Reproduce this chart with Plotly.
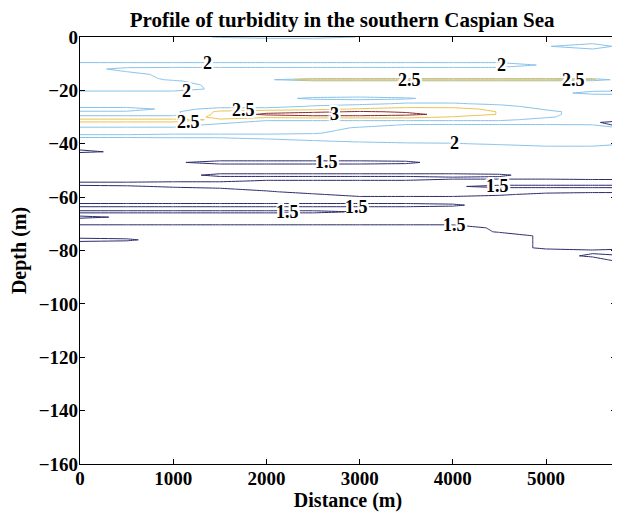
import plotly.graph_objects as go

# Distance along the transect (m)
DISTANCE = [0, 500, 1000, 1500, 2000, 2500, 3000, 3500, 4000, 4500, 5000, 5500, 5750]

# Depth of each profile row (m)
DEPTH = [0, -1, -2, -3.5, -5, -9, -10.5, -12, -14, -15.5, -16, -16.5, -18, -19.5,
         -21, -22, -23, -24, -25, -26, -27, -28, -29, -30, -31, -32, -33, -34, -35,
         -36, -37, -38, -39, -40, -41, -42, -43, -44, -45.5, -47, -48.5, -50.5,
         -51.75, -53, -54, -55, -56, -57, -58, -59, -60, -61.5, -63, -64.5, -65.5,
         -66.5, -67.5, -68.5, -70, -71.5, -73, -74.5, -76, -77.5, -79, -80.5, -82,
         -83.5, -85, -90, -160]

# Turbidity estimated at each (depth row, distance column)
TURBIDITY = [
    [1.8, 1.8, 1.8, 2.04, 2.2, 2.2, 1.98, 1.8, 1.8, 1.8, 1.8, 1.8, 1.8],      # 0
    [1.8, 1.8, 1.8, 1.8, 1.8, 1.8, 1.8, 1.8, 1.8, 1.8, 1.8, 1.8, 1.8],        # -1
    [1.8, 1.8, 1.8, 1.8, 1.8, 1.8, 1.8, 1.8, 1.8, 1.8, 1.8, 1.8, 1.8],        # -2
    [1.8, 1.8, 1.8, 1.8, 1.8, 1.8, 1.8, 1.8, 1.8, 1.8, 1.95, 2.4, 1.92],      # -3.5
    [1.8, 1.8, 1.8, 1.8, 1.8, 1.8, 1.8, 1.8, 1.8, 1.8, 1.8, 1.8, 1.8],        # -5
    [1.8, 1.8, 1.8, 1.8, 1.8, 1.8, 1.8, 1.8, 1.8, 1.8, 1.8, 1.8, 1.8],        # -9
    [2.3, 2.3, 2.3, 2.3, 2.3, 2.3, 2.3, 2.3, 2.3, 2.3, 1.92, 1.8, 1.8],       # -10.5
    [2.2, 1.85, 1.8, 1.8, 1.8, 1.8, 1.8, 1.8, 1.8, 1.8, 1.8, 1.8, 1.8],       # -12
    [2.2, 2.15, 1.85, 1.8, 1.8, 1.8, 1.8, 1.8, 1.8, 1.8, 1.8, 1.8, 1.8],      # -14
    [2.2, 2.2, 1.9, 1.8, 1.8, 1.8, 1.8, 1.8, 1.8, 1.8, 1.8, 1.8, 1.8],        # -15.5
    [2.2, 2.2, 1.95, 1.8, 1.8, 2.95, 2.95, 2.95, 2.95, 2.95, 2.95, 2.6, 1.8], # -16
    [2.2, 2.2, 2.05, 1.8, 1.8, 1.8, 1.8, 1.8, 1.8, 1.8, 1.8, 1.8, 1.8],       # -16.5
    [2.2, 2.2, 2.15, 1.9, 1.8, 1.8, 1.8, 1.8, 1.8, 1.8, 1.8, 1.8, 1.8],       # -18
    [2.2, 2.2, 2.2, 1.9, 1.8, 1.8, 1.8, 1.8, 1.8, 1.8, 1.8, 1.8, 1.8],        # -19.5
    [1.8, 1.8, 1.8, 1.8, 1.8, 1.8, 1.8, 1.8, 1.8, 1.8, 1.8, 2.15, 2.2],       # -21
    [1.8, 1.8, 1.8, 1.8, 1.8, 1.8, 1.8, 1.8, 1.8, 1.8, 1.8, 1.8, 1.8],        # -22
    [1.8, 1.8, 1.8, 1.8, 1.8, 2.1, 2.2, 2.05, 1.8, 1.8, 1.8, 1.8, 1.8],       # -23
    [1.8, 1.8, 1.8, 1.8, 1.8, 1.8, 1.8, 1.85, 1.85, 1.8, 1.8, 1.8, 1.8],      # -24
    [1.8, 1.8, 1.8, 1.8, 1.8, 1.8, 1.9, 2.05, 2.05, 1.9, 1.8, 1.8, 1.8],      # -25
    [1.8, 1.8, 1.8, 1.8, 1.8, 2.05, 2.2, 2.3, 2.3, 2.15, 1.8, 1.8, 1.8],      # -26
    [2.3, 2.3, 1.8, 2.2, 2.2, 2.35, 2.55, 2.75, 2.7, 2.35, 1.95, 1.8, 1.8],   # -27
    [1.93, 1.93, 1.9, 2.6, 2.85, 2.9, 3.05, 2.95, 2.85, 2.47, 2.1, 1.8, 1.8], # -28
    [1.85, 1.85, 1.85, 2.65, 3.1, 3.3, 3.3, 3.12, 2.85, 2.47, 2.1, 1.8, 1.8], # -29
    [2.15, 2.15, 2.15, 2.65, 2.6, 2.7, 2.7, 2.7, 2.45, 2.3, 2.05, 1.8, 1.8],  # -30
    [2.6, 2.6, 2.6, 2.45, 2.1, 2.1, 2.1, 2.1, 2.1, 2.1, 1.85, 1.8, 1.8],      # -31
    [2.48, 2.48, 2.48, 2.15, 1.8, 1.8, 1.8, 1.8, 1.8, 1.8, 1.8, 1.6, 1.3],    # -32
    [2.2, 2.2, 2.2, 1.85, 1.8, 1.8, 1.8, 2.05, 2.05, 2.05, 2.05, 2.05, 1.4],  # -33
    [1.95, 1.95, 1.95, 1.8, 1.8, 1.8, 2.05, 2.2, 2.2, 2.2, 2.2, 2.2, 2.1],    # -34
    [1.8, 1.8, 1.8, 1.8, 1.8, 1.8, 2.2, 2.2, 2.2, 2.2, 2.2, 2.2, 2.2],        # -35
    [1.85, 1.85, 1.9, 1.9, 1.9, 1.95, 2.2, 2.2, 2.2, 2.2, 2.2, 2.2, 2.2],     # -36
    [2.1, 2.1, 2.15, 2.15, 2.15, 2.2, 2.2, 2.2, 2.2, 2.2, 2.2, 2.2, 2.2],     # -37
    [1.95, 1.95, 1.95, 1.95, 2.05, 2.2, 2.2, 2.2, 2.2, 2.2, 2.2, 2.2, 2.2],   # -38
    [1.8, 1.8, 1.8, 1.8, 1.8, 1.95, 2.1, 2.2, 2.2, 2.2, 2.2, 2.2, 2.2],       # -39
    [1.8, 1.8, 1.8, 1.8, 1.8, 1.8, 1.8, 1.9, 1.95, 2.1, 2.2, 2.2, 2.1],       # -40
    [1.8, 1.8, 1.8, 1.8, 1.8, 1.8, 1.8, 1.8, 1.8, 1.8, 1.98, 1.98, 1.8],      # -41
    [1.55, 1.75, 1.8, 1.8, 1.8, 1.8, 1.8, 1.8, 1.8, 1.8, 1.8, 1.8, 1.8],      # -42
    [1.4, 1.6, 1.8, 1.8, 1.8, 1.8, 1.8, 1.8, 1.8, 1.8, 1.8, 1.8, 1.8],        # -43
    [1.75, 1.75, 1.8, 1.8, 1.8, 1.8, 1.8, 1.8, 1.8, 1.8, 1.8, 1.8, 1.8],      # -44
    [1.62, 1.62, 1.62, 1.62, 1.62, 1.62, 1.62, 1.62, 1.62, 1.62, 1.62, 1.62, 1.62],  # -45.5
    [1.62, 1.62, 1.53, 1.42, 1.42, 1.42, 1.42, 1.45, 1.62, 1.62, 1.62, 1.62, 1.62],  # -47
    [1.62, 1.62, 1.62, 1.62, 1.62, 1.62, 1.62, 1.62, 1.62, 1.62, 1.62, 1.62, 1.62],  # -48.5
    [1.62, 1.62, 1.62, 1.62, 1.62, 1.62, 1.62, 1.62, 1.62, 1.62, 1.62, 1.62, 1.62],  # -50.5
    [1.62, 1.62, 1.62, 1.42, 1.42, 1.42, 1.42, 1.42, 1.42, 1.46, 1.62, 1.62, 1.62],  # -51.75
    [1.62, 1.62, 1.62, 1.62, 1.62, 1.62, 1.62, 1.62, 1.55, 1.55, 1.55, 1.6, 1.6],    # -53
    [1.6, 1.6, 1.55, 1.55, 1.45, 1.45, 1.45, 1.45, 1.35, 1.35, 1.35, 1.35, 1.35],    # -54
    [1.35, 1.35, 1.35, 1.35, 1.35, 1.35, 1.35, 1.35, 1.35, 1.35, 1.35, 1.35, 1.35],  # -55
    [1.6, 1.55, 1.45, 1.4, 1.35, 1.35, 1.35, 1.35, 1.45, 1.62, 1.62, 1.62, 1.62],    # -56
    [1.62, 1.62, 1.62, 1.55, 1.4, 1.35, 1.35, 1.35, 1.35, 1.35, 1.35, 1.35, 1.35],   # -57
    [1.62, 1.62, 1.62, 1.62, 1.55, 1.35, 1.35, 1.35, 1.35, 1.35, 1.4, 1.45, 1.45],   # -58
    [1.62, 1.62, 1.62, 1.62, 1.62, 1.55, 1.35, 1.35, 1.35, 1.45, 1.6, 1.62, 1.62],   # -59
    [1.62, 1.62, 1.62, 1.62, 1.62, 1.62, 1.55, 1.55, 1.55, 1.6, 1.62, 1.62, 1.62],   # -60
    [1.62, 1.62, 1.62, 1.62, 1.62, 1.62, 1.62, 1.62, 1.62, 1.62, 1.62, 1.62, 1.62],  # -61.5
    [1.42, 1.42, 1.42, 1.42, 1.42, 1.42, 1.42, 1.42, 1.46, 1.62, 1.62, 1.62, 1.62],  # -63
    [1.62, 1.62, 1.62, 1.62, 1.62, 1.62, 1.62, 1.62, 1.62, 1.62, 1.62, 1.62, 1.62],  # -64.5
    [1.42, 1.42, 1.42, 1.42, 1.42, 1.42, 1.52, 1.62, 1.62, 1.62, 1.62, 1.62, 1.62],  # -65.5
    [1.62, 1.62, 1.62, 1.62, 1.62, 1.62, 1.62, 1.62, 1.62, 1.62, 1.62, 1.62, 1.62],  # -66.5
    [1.42, 1.55, 1.62, 1.62, 1.62, 1.62, 1.62, 1.62, 1.62, 1.62, 1.62, 1.62, 1.62],  # -67.5
    [1.62, 1.62, 1.62, 1.62, 1.62, 1.62, 1.62, 1.62, 1.62, 1.62, 1.62, 1.62, 1.62],  # -68.5
    [1.6, 1.6, 1.6, 1.6, 1.6, 1.6, 1.6, 1.6, 1.6, 1.62, 1.62, 1.62, 1.62],           # -70
    [1.2, 1.2, 1.2, 1.2, 1.2, 1.2, 1.2, 1.2, 1.2, 1.62, 1.62, 1.62, 1.62],           # -71.5
    [1.2, 1.2, 1.2, 1.2, 1.2, 1.2, 1.2, 1.2, 1.2, 1.55, 1.62, 1.62, 1.62],          # -73
    [1.2, 1.2, 1.2, 1.2, 1.2, 1.2, 1.2, 1.2, 1.2, 1.2, 1.62, 1.62, 1.62],           # -74.5
    [1.7, 1.6, 1.2, 1.2, 1.2, 1.2, 1.2, 1.2, 1.2, 1.2, 1.62, 1.62, 1.62],           # -76
    [1.2, 1.2, 1.2, 1.2, 1.2, 1.2, 1.2, 1.2, 1.2, 1.2, 1.62, 1.62, 1.62],           # -77.5
    [1.2, 1.2, 1.2, 1.2, 1.2, 1.2, 1.2, 1.2, 1.2, 1.2, 1.62, 1.62, 1.62],           # -79
    [1.2, 1.2, 1.2, 1.2, 1.2, 1.2, 1.2, 1.2, 1.2, 1.2, 1.2, 1.4, 1.3],              # -80.5
    [1.2, 1.2, 1.2, 1.2, 1.2, 1.2, 1.2, 1.2, 1.2, 1.2, 1.2, 1.62, 1.55],            # -82
    [1.2, 1.2, 1.2, 1.2, 1.2, 1.2, 1.2, 1.2, 1.2, 1.2, 1.2, 1.2, 1.65],             # -83.5
    [1.2, 1.2, 1.2, 1.2, 1.2, 1.2, 1.2, 1.2, 1.2, 1.2, 1.2, 1.2, 1.2],              # -85
    [1.2, 1.2, 1.2, 1.2, 1.2, 1.2, 1.2, 1.2, 1.2, 1.2, 1.2, 1.2, 1.2],              # -90
    [1.2, 1.2, 1.2, 1.2, 1.2, 1.2, 1.2, 1.2, 1.2, 1.2, 1.2, 1.2, 1.2],              # -160
]

LEVEL_START, LEVEL_END, LEVEL_STEP = 1.5, 3.0, 0.5

# Contour labels (clabel style): level text and where it sits on its line
LABEL_TEXT = ["2", "2", "2", "2.5", "2.5", "2.5", "2.5", "3", "2",
              "1.5", "1.5", "1.5", "1.5", "1.5"]
LABEL_DIST = [1370, 1140, 4520, 3540, 5290, 1750, 1160, 2730, 4020,
              2640, 4480, 2230, 2970, 4020]
LABEL_DEPTH = [-9.8, -20.2, -10.5, -16, -16, -27.4, -31.8, -28.9, -39.6,
               -46.9, -55.9, -65.5, -63.6, -70.4]

X_TICKS = [0, 1000, 2000, 3000, 4000, 5000]
Y_TICKS = [0, -20, -40, -60, -80, -100, -120, -140, -160]

TITLE = "Profile of turbidity in the southern Caspian Sea"
X_LABEL = "Distance (m)"
Y_LABEL = "Depth (m)"

FONT = "Liberation Serif, Times New Roman, serif"
HALO = ("white 2px 0px 0px, white -2px 0px 0px, white 0px 2px 0px, white 0px -2px 0px, "
        "white 2px 2px 0px, white -2px -2px 0px, white 2px -2px 0px, white -2px 2px 0px")

fig = go.Figure(
    go.Contour(
        x=DISTANCE,
        y=DEPTH[::-1],
        z=TURBIDITY[::-1],
        zmin=LEVEL_START,
        zmax=LEVEL_END,
        autocontour=False,
        contours=dict(
            start=LEVEL_START,
            end=LEVEL_END,
            size=LEVEL_STEP,
            coloring="lines",
            showlabels=False,
        ),
        colorscale=[
            [0.0, "#2a2a6c"],
            [1 / 3, "#86c2ea"],
            [2 / 3, "#ecc14a"],
            [1.0, "#8a2a2a"],
        ],
        line=dict(width=1.0, smoothing=0),
        showscale=False,
        hoverinfo="skip",
    )
)

for txt, xd, yd in zip(LABEL_TEXT, LABEL_DIST, LABEL_DEPTH):
    fig.add_annotation(
        x=xd, y=yd, xref="x", yref="y", text=txt, showarrow=False,
        xanchor="center", yanchor="middle",
        font=dict(family=FONT, size=18, color="black", weight="bold", shadow=HALO),
    )

axis_common = dict(
    showline=True,
    linecolor="black",
    linewidth=1.2,
    mirror="ticks",
    ticks="inside",
    ticklen=5,
    tickcolor="black",
    showgrid=False,
    zeroline=False,
    automargin=False,
    ticklabelstandoff=-3,
    tickfont=dict(family=FONT, size=19, color="black", weight="bold"),
)

# The page body adds an 8 px offset, so the figure is sized 8 px smaller.
fig.update_layout(
    width=612,
    height=506,
    margin=dict(l=72, r=4, t=29, b=50),
    paper_bgcolor="white",
    plot_bgcolor="white",
    title=dict(
        text=TITLE,
        x=0.546,
        xanchor="center",
        xref="container",
        y=0.977,
        yanchor="middle",
        yref="container",
        font=dict(family=FONT, size=21, color="black", weight="bold"),
    ),
    xaxis=dict(
        range=[0, 5750],
        tickvals=X_TICKS,
        title=dict(text=X_LABEL, standoff=4,
                   font=dict(family=FONT, size=20, color="black", weight="bold")),
        **axis_common,
    ),
    yaxis=dict(
        range=[-160, 0],
        tickvals=Y_TICKS,
        title=dict(text=Y_LABEL, standoff=8,
                   font=dict(family=FONT, size=20, color="black", weight="bold")),
        **axis_common,
    ),
    showlegend=False,
)

fig.write_html("out.html")
